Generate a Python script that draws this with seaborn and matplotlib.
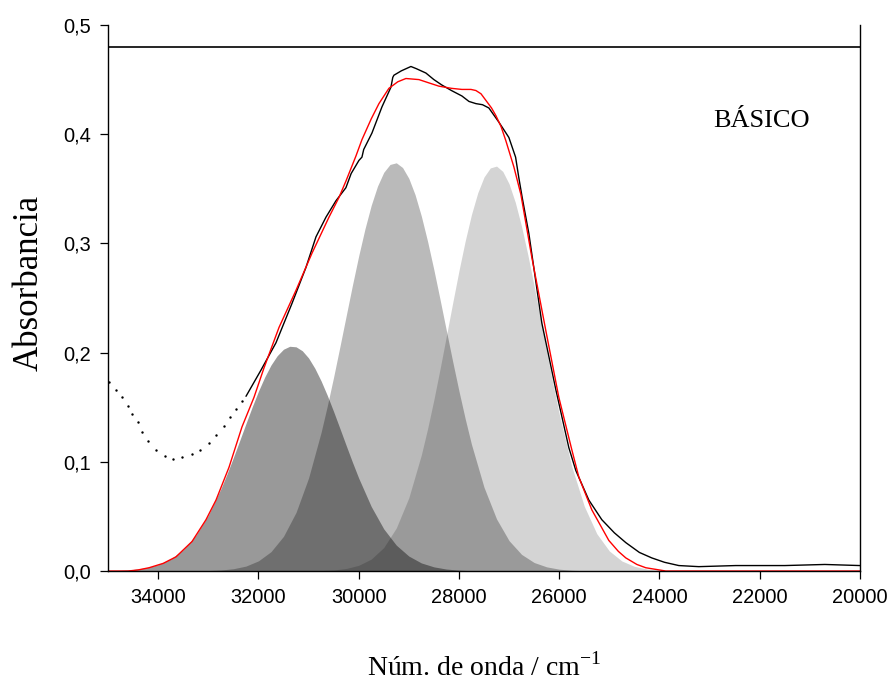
import numpy as np
import pandas as pd
import seaborn as sns
import matplotlib.pyplot as plt

# band 1 (dark grey)
band1_x = [35000, 34750, 34500, 34250, 34000, 33750, 33500, 33250, 33000, 32750,
           32625, 32500, 32375, 32250, 32125, 32000, 31875, 31750, 31625, 31500,
           31375, 31250, 31125, 31000, 30875, 30750, 30625, 30500, 30375, 30250,
           30125, 30000, 29750, 29500, 29250, 29000, 28750, 28500, 28250, 28000,
           27750, 27500, 27250]
band1_y = [0.0002, 0.0006, 0.0014, 0.0029, 0.0058, 0.0110, 0.0196, 0.0326, 0.0511, 0.0752,
           0.0891, 0.1039, 0.1193, 0.1349, 0.1502, 0.1646, 0.1776, 0.1886, 0.1972, 0.2031,
           0.2058, 0.2053, 0.2017, 0.1951, 0.1857, 0.1741, 0.1607, 0.1460, 0.1306, 0.1150,
           0.0997, 0.0851, 0.0591, 0.0386, 0.0237, 0.0137, 0.0074, 0.0038, 0.0018, 0.0008,
           0.0003, 0.0001, 0.0]
# band 2 (mid grey)
band2_x = [33750, 33500, 33250, 33000, 32750, 32500, 32250, 32000, 31750, 31500,
           31250, 31000, 30750, 30625, 30500, 30375, 30250, 30125, 30000, 29875,
           29750, 29625, 29500, 29375, 29250, 29125, 29000, 28875, 28750, 28625,
           28500, 28375, 28250, 28125, 28000, 27875, 27750, 27500, 27250, 27000,
           26750, 26500, 26250, 26000, 25750, 25500, 25250, 25000]
band2_y = [0.0, 0.0001, 0.0001, 0.0004, 0.0009, 0.0021, 0.0045, 0.0093, 0.0177, 0.0318,
           0.0537, 0.0852, 0.1270, 0.1514, 0.1777, 0.2054, 0.2336, 0.2617, 0.2886, 0.3133,
           0.3349, 0.3524, 0.3651, 0.3723, 0.3738, 0.3695, 0.3596, 0.3446, 0.3250, 0.3018,
           0.2759, 0.2483, 0.2200, 0.1919, 0.1649, 0.1394, 0.1160, 0.0767, 0.0477, 0.0278,
           0.0152, 0.0078, 0.0038, 0.0017, 0.0007, 0.0003, 0.0001, 0.0]
# band 3 (light grey)
band3_x = [31250, 31000, 30750, 30500, 30250, 30000, 29750, 29500, 29250, 29000,
           28750, 28625, 28500, 28375, 28250, 28125, 28000, 27875, 27750, 27625,
           27500, 27375, 27250, 27125, 27000, 26875, 26750, 26625, 26500, 26375,
           26250, 26125, 26000, 25750, 25500, 25250, 25000, 24750, 24500, 24250,
           24000, 23750, 23500, 23250]
band3_y = [0.0, 0.0001, 0.0004, 0.0009, 0.0023, 0.0052, 0.0109, 0.0215, 0.0394, 0.0671,
           0.1064, 0.1304, 0.1569, 0.1855, 0.2154, 0.2455, 0.2749, 0.3023, 0.3265, 0.3463,
           0.3608, 0.3691, 0.3708, 0.3659, 0.3546, 0.3375, 0.3154, 0.2895, 0.2610, 0.2311,
           0.2009, 0.1716, 0.1439, 0.0959, 0.0594, 0.0342, 0.0184, 0.0092, 0.0043, 0.0018,
           0.0007, 0.0003, 0.0001, 0.0]

# fitted envelope (red)
fit_x = [35000, 34600, 34400, 34182, 33900, 33644, 33325, 33046, 32846, 32587,
         32328, 32089, 31889, 31590, 31251, 30932, 30593, 30394, 30255, 30055,
         29935, 29750, 29596, 29397, 29220, 29058, 28798, 28600, 28400, 28150,
         27941, 27760, 27662, 27560, 27463, 27350, 27263, 27160, 27064, 26904,
         26765, 26545, 26266, 26007, 25748, 25608, 25349, 25010, 24820, 24671,
         24450, 24273, 23874, 20000]
fit_y = [0.000, 0.000, 0.001, 0.003, 0.007, 0.013, 0.027, 0.047, 0.065, 0.095,
         0.132, 0.159, 0.186, 0.223, 0.257, 0.291, 0.324, 0.342, 0.357, 0.380,
         0.395, 0.414, 0.428, 0.442, 0.448, 0.451, 0.450, 0.447, 0.444, 0.442,
         0.441, 0.441, 0.440, 0.437, 0.431, 0.424, 0.417, 0.407, 0.394, 0.370,
         0.345, 0.287, 0.220, 0.159, 0.111, 0.086, 0.056, 0.028, 0.018, 0.012,
         0.006, 0.003, 0.000, 0.000]

# measured spectrum (black)
exp_x = [32248, 31949, 31650, 31331, 31052, 30852, 30653, 30454, 30255, 30150,
         29995, 29935, 29900, 29736, 29536, 29357, 29320, 29297, 29150, 28958,
         28850, 28659, 28500, 28340, 28150, 27941, 27800, 27662, 27530, 27403,
         27203, 27004, 26870, 26805, 26738, 26605, 26346, 26067, 25808, 25668,
         25409, 25150, 24900, 24671, 24400, 24153, 23900, 23614, 23215, 22478,
         21500, 20700, 20000]
exp_y = [0.160, 0.184, 0.209, 0.245, 0.278, 0.306, 0.324, 0.339, 0.351, 0.364,
         0.376, 0.379, 0.386, 0.401, 0.425, 0.443, 0.452, 0.454, 0.458, 0.462,
         0.460, 0.456, 0.450, 0.445, 0.440, 0.435, 0.430, 0.428, 0.427, 0.424,
         0.411, 0.397, 0.379, 0.360, 0.342, 0.309, 0.227, 0.166, 0.113, 0.092,
         0.065, 0.047, 0.035, 0.026, 0.017, 0.012, 0.008, 0.005, 0.004, 0.005,
         0.005, 0.006, 0.005]

# points outside the fitted range (dotted)
dot_x = [34980, 34840, 34721, 34601, 34521, 34402, 34322, 34202, 34043, 33863,
         33704, 33524, 33325, 33165, 32986, 32846, 32687, 32567, 32448, 32328]
dot_y = [0.173, 0.166, 0.159, 0.151, 0.144, 0.136, 0.127, 0.119, 0.111, 0.105,
         0.103, 0.104, 0.107, 0.111, 0.117, 0.125, 0.133, 0.141, 0.148, 0.156]

x_ticks = [34000, 32000, 30000, 28000, 26000, 24000, 22000, 20000]
y_ticks = [0.0, 0.1, 0.2, 0.3, 0.4, 0.5]
y_tick_labels = ['0,0', '0,1', '0,2', '0,3', '0,4', '0,5']
ref_level = 0.48

sns.set_style('ticks')
plt.rcParams['font.family'] = ['Liberation Sans', 'DejaVu Sans']
plt.rcParams['mathtext.fontset'] = 'custom'
plt.rcParams['mathtext.rm'] = 'Liberation Serif'

fig, ax = plt.subplots(figsize=(8.93, 6.81), dpi=100)
fig.subplots_adjust(left=0.121, right=0.963, bottom=0.1615, top=0.9633)

# gaussian components, black with alpha so overlaps get darker
for bx, by, a in [(band1_x, band1_y, 0.40), (band2_x, band2_y, 0.27), (band3_x, band3_y, 0.17)]:
    ax.fill_between(bx, 0, by, color='black', alpha=a, linewidth=0)

fit = pd.DataFrame({'x': fit_x, 'y': fit_y})
meas = pd.DataFrame({'x': exp_x, 'y': exp_y})
dots = pd.DataFrame({'x': dot_x, 'y': dot_y})

sns.lineplot(data=meas, x='x', y='y', color='black', lw=1.0, sort=False, estimator=None, ax=ax)
sns.lineplot(data=fit, x='x', y='y', color='red', lw=1.0, sort=False, estimator=None, ax=ax)
sns.scatterplot(data=dots, x='x', y='y', color='black', s=3, linewidth=0, ax=ax)

ax.axhline(ref_level, color='black', lw=1.2)

ax.set_xlim(35000, 20000)
ax.set_ylim(0, 0.5)
ax.set_xticks(x_ticks)
ax.set_xticklabels([str(v) for v in x_ticks])
ax.set_yticks(y_ticks)
ax.set_yticklabels(y_tick_labels)
ax.tick_params(direction='out', length=6, width=0.9, labelsize=14.4, color='black',
               labelcolor='black', pad=6)

ax.spines['top'].set_visible(False)
for s in ['left', 'right', 'bottom']:
    ax.spines[s].set_linewidth(1.0)
    ax.spines[s].set_color('black')

ax.set_xlabel('Núm. de onda / cm$^{-1}$', family='Liberation Serif', fontsize=20, color='black')
ax.set_ylabel('Absorbancia', family='Liberation Serif', fontsize=25, color='black')
ax.xaxis.set_label_coords(0.5, -0.15)
ax.yaxis.set_label_coords(-0.083, 0.527)

ax.text(21960, 0.412, 'BÁSICO', family='Liberation Serif', fontsize=19,
        ha='center', va='center', color='black')

fig.savefig('out.png', dpi=100)
